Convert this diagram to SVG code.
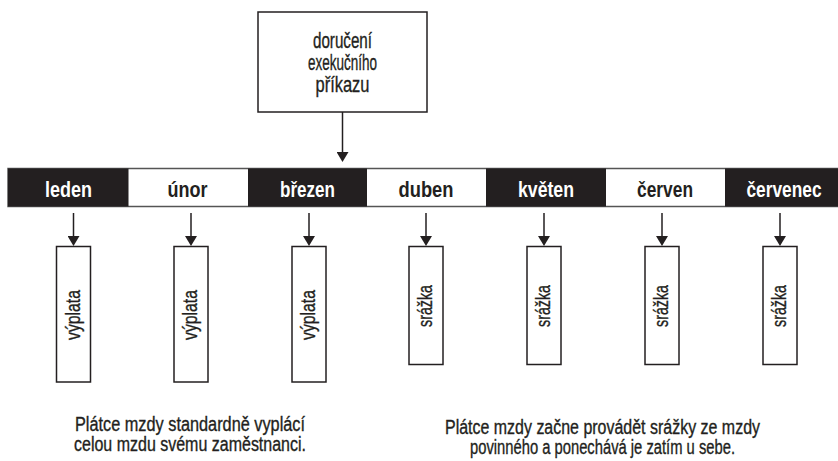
<svg xmlns="http://www.w3.org/2000/svg" width="838" height="461" viewBox="0 0 838 461">
<defs>
<marker id="ah" viewBox="0 0 10 12" refX="2" refY="6" markerWidth="10" markerHeight="12" markerUnits="userSpaceOnUse" orient="auto">
<path d="M0,0 L10,6 L0,12 z" fill="#231f20"/>
</marker>
<style>
.t{font-family:"Liberation Sans Narrow","Liberation Sans",Arial,sans-serif;fill:#231f20;stroke:#231f20;stroke-width:0.35;}
.m{font-family:"Liberation Sans Narrow","Liberation Sans",Arial,sans-serif;font-weight:bold;font-size:22px;text-anchor:middle;}
.mb{fill:#ffffff;}
.mw{fill:#231f20;}
.box{fill:#ffffff;stroke:#231f20;stroke-width:1.5;}
.blk{fill:#231f20;}
.con{stroke:#231f20;stroke-width:1.5;fill:none;marker-end:url(#ah);}
.v{font-size:21px;text-anchor:middle;}
</style>
</defs>
<rect width="838" height="461" fill="#ffffff"/>

<g id="top">
<rect class="box" x="258" y="12" width="169" height="100"/>
<text class="t" font-size="22" text-anchor="middle"><tspan x="342.5" y="48" textLength="59" lengthAdjust="spacingAndGlyphs">doručení</tspan><tspan x="342.5" y="70" textLength="69" lengthAdjust="spacingAndGlyphs">exekučního</tspan><tspan x="342.5" y="92" textLength="54" lengthAdjust="spacingAndGlyphs">příkazu</tspan></text>
</g>

<g id="bar">
<rect x="8" y="168.5" width="831" height="38" fill="#ffffff" stroke="#555" stroke-width="1.5"/>
<rect class="blk" x="8" y="168.5" width="120.5" height="38"/>
<rect class="blk" x="248" y="168.5" width="119" height="38"/>
<rect class="blk" x="486" y="168.5" width="120" height="38"/>
<rect class="blk" x="725" y="168.5" width="113" height="38"/>
</g>
<g id="leden"><text class="m mb" x="68.5" y="197" textLength="47" lengthAdjust="spacingAndGlyphs">leden</text></g>
<g id="unor"><text class="m mw" x="187.5" y="197" textLength="40" lengthAdjust="spacingAndGlyphs">únor</text></g>
<g id="brezen"><text class="m mb" x="307.5" y="197" textLength="55" lengthAdjust="spacingAndGlyphs">březen</text></g>
<g id="duben"><text class="m mw" x="426" y="197" textLength="55" lengthAdjust="spacingAndGlyphs">duben</text></g>
<g id="kveten"><text class="m mb" x="546" y="197" textLength="56" lengthAdjust="spacingAndGlyphs">květen</text></g>
<g id="cerven"><text class="m mw" x="665" y="197" textLength="56" lengthAdjust="spacingAndGlyphs">červen</text></g>
<g id="cervenec"><text class="m mb" x="784" y="197" textLength="75" lengthAdjust="spacingAndGlyphs">červenec</text></g>

<g id="connectors">
<line class="con" x1="342.5" y1="112" x2="342.5" y2="154"/>
<line class="con" x1="73.5" y1="213" x2="73.5" y2="238"/>
<line class="con" x1="191" y1="213" x2="191" y2="238"/>
<line class="con" x1="309" y1="213" x2="309" y2="238"/>
<line class="con" x1="426" y1="213" x2="426" y2="238"/>
<line class="con" x1="544" y1="213" x2="544" y2="238"/>
<line class="con" x1="662" y1="213" x2="662" y2="238"/>
<line class="con" x1="780" y1="213" x2="780" y2="238"/>
</g>

<g id="v1"><rect class="box" x="56.5" y="246.5" width="34" height="135.5"/><text class="t v" transform="translate(73.5,315) rotate(-90)" x="0" y="6" textLength="50" lengthAdjust="spacingAndGlyphs">výplata</text></g>
<g id="v2"><rect class="box" x="174" y="246.5" width="34" height="135.5"/><text class="t v" transform="translate(191,315) rotate(-90)" x="0" y="6" textLength="50" lengthAdjust="spacingAndGlyphs">výplata</text></g>
<g id="v3"><rect class="box" x="292" y="246.5" width="34" height="135.5"/><text class="t v" transform="translate(309,315) rotate(-90)" x="0" y="6" textLength="50" lengthAdjust="spacingAndGlyphs">výplata</text></g>
<g id="s4"><rect class="box" x="409" y="246.5" width="34" height="118"/><text class="t v" transform="translate(426,306) rotate(-90)" x="0" y="6" textLength="42" lengthAdjust="spacingAndGlyphs">srážka</text></g>
<g id="s5"><rect class="box" x="527" y="246.5" width="34" height="118"/><text class="t v" transform="translate(544,306) rotate(-90)" x="0" y="6" textLength="42" lengthAdjust="spacingAndGlyphs">srážka</text></g>
<g id="s6"><rect class="box" x="645" y="246.5" width="34" height="118"/><text class="t v" transform="translate(662,306) rotate(-90)" x="0" y="6" textLength="42" lengthAdjust="spacingAndGlyphs">srážka</text></g>
<g id="s7"><rect class="box" x="763" y="246.5" width="34" height="118"/><text class="t v" transform="translate(780,306) rotate(-90)" x="0" y="6" textLength="42" lengthAdjust="spacingAndGlyphs">srážka</text></g>

<g id="note-left">
<text class="t" font-size="20" text-anchor="middle"><tspan x="190" y="431" textLength="230" lengthAdjust="spacingAndGlyphs">Plátce mzdy standardně vyplácí</tspan><tspan x="190" y="451" textLength="232" lengthAdjust="spacingAndGlyphs">celou mzdu svému zaměstnanci.</tspan></text>
</g>
<g id="note-right">
<text class="t" font-size="20" text-anchor="middle"><tspan x="602.5" y="434" textLength="315" lengthAdjust="spacingAndGlyphs">Plátce mzdy začne provádět srážky ze mzdy</tspan><tspan x="602.5" y="454" textLength="265" lengthAdjust="spacingAndGlyphs">povinného a ponechává je zatím u sebe.</tspan></text>
</g>
</svg>
